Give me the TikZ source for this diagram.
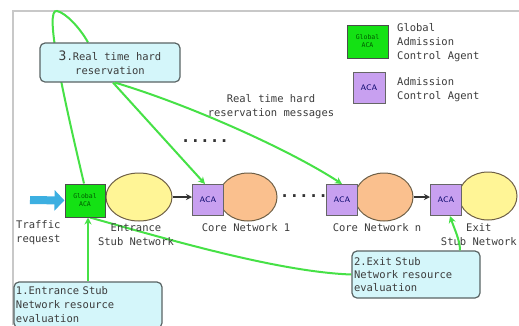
\documentclass[tikz,border=0pt]{standalone}
\usepackage{fontspec}
\setmonofont{DejaVu Sans Mono}
\usetikzlibrary{arrows.meta,shapes.geometric}
\pgfdeclarelayer{background}
\pgfsetlayers{background,main}
\definecolor{gline}{RGB}{70,225,70}
\definecolor{gacagreen}{RGB}{20,225,20}
\definecolor{acapurple}{RGB}{200,160,240}
\definecolor{stubyellow}{RGB}{255,245,150}
\definecolor{coreorange}{RGB}{250,192,142}
\definecolor{ellborder}{RGB}{110,95,70}
\definecolor{boxcyan}{RGB}{212,246,250}
\definecolor{boxgrey}{RGB}{90,100,100}
\definecolor{framegrey}{RGB}{200,200,200}
\definecolor{trafficblue}{RGB}{60,175,225}
\definecolor{txt}{RGB}{60,60,60}
\tikzset{
  gacabox/.style={draw=black!70, line width=1, fill=gacagreen, minimum width=40, minimum height=33, inner sep=0,
    font=\ttfamily\fontsize{6.5}{8}\selectfont, text=green!35!black, align=center},
  acabox/.style={draw=black!60, line width=1, fill=acapurple, minimum width=31, minimum height=31, inner sep=0,
    font=\sffamily\fontsize{8}{9}\selectfont, text=blue!40!black},
  netell/.style={ellipse, draw=ellborder, line width=1, inner sep=0, minimum width=60, minimum height=48},
  notebox/.style={draw=boxgrey, line width=1.2, rounded corners=5, fill=boxcyan, text=txt, inner sep=2},
  lbl/.style={text=txt, align=center, inner sep=0},
  gconn/.style={gline, line width=2},
  gtip/.style={gline, line width=2, -{Stealth[length=7,width=7]}},
  blk/.style={black!80, line width=1.3, -{Stealth[length=6,width=6]}},
  dotrow/.style={font=\ttfamily\bfseries\fontsize{16}{16}\selectfont, text=black!80, inner sep=0}
}
\begin{document}
\begin{tikzpicture}[x=1pt,y=-1pt, font=\ttfamily\fontsize{10.5}{14}\selectfont]
\useasboundingbox (0,0) rectangle (519,325);
\begin{pgfonlayer}{background}
\fill[white] (0,0) rectangle (519,325);
\draw[framegrey, line width=2] (12.5,325) -- (12.5,11) -- (519,11);
\end{pgfonlayer}

% networks
\node[netell, fill=stubyellow, minimum width=66] (es) at (139,197) {};
\node[netell, fill=coreorange, minimum width=58] (c1) at (248,197) {};
\node[netell, fill=coreorange, minimum width=58] (cn) at (384,197) {};
\node[netell, fill=stubyellow, minimum width=58] (xs) at (488,196) {};

% agents
\node[gacabox] (gaca) at (85,200.5) {Global\\ACA};
\node[acabox] (aca1) at (208,200) {ACA};
\node[acabox] (acan) at (342,200) {ACA};
\node[acabox] (acax) at (446,200) {ACA};

% traffic arrow
\coordinate (tr) at (30,200);
\draw[trafficblue, line width=8, -{Triangle[length=10,width=20]}] (tr) -- (gaca.west);

% black arrows
\draw[blk] (es.east) -- (es.east -| aca1.west);
\draw[blk] (cn.east) -- (cn.east -| acax.west);

% dots
\node[dotrow] (dots1) at (304,196) {.....};
\node[dotrow] (dots2) at (205,141) {.....};

% labels
\node[lbl, align=left, anchor=west] (trl) at (16,233) {Traffic\\request};
\node[lbl] (esl) at (136,234.5) {Entrance\\Stub Network};
\node[lbl] (c1l) at (246,228) {Core Network 1};
\node[lbl] (cnl) at (377,228) {Core Network n};
\node[lbl, anchor=east] (xsl) at (517,234.5) {\hphantom{xxxx}Exit\hphantom{xxxx}\\Stub Network};
\node[lbl] (msg) at (271,106.5) {Real time hard\\reservation messages};

% note boxes
\node[notebox, minimum width=140, minimum height=39, align=center] (b3) at (110,62.5)
  {{\fontsize{13}{14}\selectfont 3}.Real time hard\\reservation};
\node[notebox, minimum width=148, minimum height=46, text width=144, align=left] (b1) at (88,305)
  {1.Entrance Stub\\Network resource\\evaluation};
\node[notebox, minimum width=128, minimum height=47, text width=124, align=left,
  font=\ttfamily\fontsize{10.5}{13}\selectfont] (b2) at (416,274.5)
  {2.Exit Stub\\Network resource\\evaluation};

% legend
\node[gacabox, minimum width=41] (lg) at (367.5,41.5) {Global\\ACA};
\node[lbl, align=left, anchor=west] (lgt) at (397,43) {Global\\Admission\\Control Agent};
\node[acabox, minimum width=32] (la) at (369,87.5) {ACA};
\node[lbl, align=left, anchor=west] (lat) at (397,89.5) {Admission\\Control Agent};

% green connectors
\begin{pgfonlayer}{background}
\draw[gconn] ([xshift=-1]gaca.north) .. controls (62,90) and (44,8) .. (57,11)
  .. controls (66,13) and (80,28) .. ([xshift=-22]b3.north);
\draw[gconn] ([xshift=5]gaca.south) .. controls (170,240) and (280,272) .. (b2.west);
\end{pgfonlayer}
\draw[gtip] ([xshift=3]b3.south) -- ([xshift=-3]aca1.north);
\draw[gtip] ([xshift=5]b3.south) .. controls (190,105) and (290,150) .. (acan.north);
\draw[gtip] (b1.north) -- (b1.north |- gaca.south);
\draw[gtip] ([xshift=44]b2.north) .. controls (460,240) and (454,228) .. ([xshift=4]acax.south);
\end{tikzpicture}
\end{document}
